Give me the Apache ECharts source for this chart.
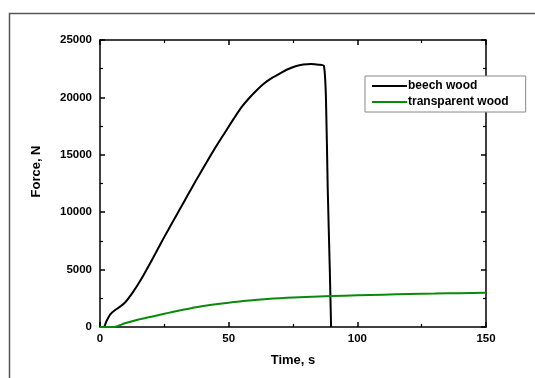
<!DOCTYPE html>
<html>
<head>
<meta charset="utf-8">
<script src="https://cdn.jsdelivr.net/npm/echarts@6/dist/echarts.min.js"></script>
<style>
  html, body { margin: 0; padding: 0; background: #fff; }
  #chart { width: 535px; height: 378px; }
</style>
</head>
<body>
<div id="chart"></div>
<script>
// time (s), force (N)
const beechWood = [
  [0, 0], [1.5, 0], [2.5, 500], [4, 1100], [6, 1500], [8, 1800], [10, 2200],
  [13, 3100], [16, 4150], [19, 5350], [22, 6600], [25, 7850], [28, 9050],
  [31, 10250], [34, 11450], [37, 12650], [40, 13800], [43, 14950], [46, 16050],
  [49, 17100], [52, 18150], [55, 19150], [58, 19950], [61, 20650], [64, 21250],
  [67, 21720], [70, 22100], [73, 22450], [76, 22720], [79, 22870], [82, 22900],
  [85, 22850], [87, 22750], [87.8, 20000], [88.5, 12000], [89.3, 5000], [89.8, 0]
];
const transparentWood = [
  [0, 0], [5, 0], [10, 350], [15, 650], [20, 900], [25, 1150], [30, 1400],
  [35, 1620], [40, 1820], [45, 1980], [50, 2120], [55, 2250], [60, 2350],
  [65, 2440], [70, 2510], [75, 2570], [80, 2620], [90, 2700], [100, 2760],
  [110, 2820], [120, 2870], [130, 2910], [140, 2950], [150, 2990]
];
const seriesNames = ["beech wood", "transparent wood"];

const font = "Liberation Sans, Arial, sans-serif";
const axisBase = {
  axisLine: { show: true, onZero: false, lineStyle: { color: "#000", width: 1.5 } },
  axisTick: { show: true, inside: true, length: 5, lineStyle: { color: "#000", width: 1.5 } },
  minorTick: { show: true, splitNumber: 2, length: 3, lineStyle: { color: "#000", width: 1.2 } },
  splitLine: { show: false },
  minorSplitLine: { show: false }
};

const chart = echarts.init(document.getElementById("chart"));
chart.setOption({
  animation: false,
  backgroundColor: "#fff",
  graphic: [{
    type: "rect",
    shape: { x: 9.5, y: 13.5, width: 600, height: 400 },
    style: { fill: "none", stroke: "#555", lineWidth: 1.5 },
    silent: true
  }],
  grid: { left: 100, top: 40, right: 49, bottom: 51 },
  legend: {
    orient: "vertical",
    left: 365,
    top: 76,
    data: seriesNames,
    itemWidth: 35,
    itemHeight: 2,
    itemGap: 4,
    icon: "rect",
    backgroundColor: "#fff",
    borderColor: "#888",
    borderWidth: 1,
    borderRadius: 0,
    padding: [4, 17, 4, 7],
    textStyle: { fontFamily: font, fontWeight: "bold", fontSize: 12, color: "#000", padding: [0, 0, 0, -4] }
  },
  xAxis: [
    Object.assign({}, axisBase, {
      type: "value", min: 0, max: 150, interval: 50,
      name: "Time, s", nameLocation: "middle", nameGap: 27,
      nameTextStyle: { fontFamily: font, fontWeight: "bold", fontSize: 13, color: "#000" },
      axisLabel: { fontFamily: font, fontWeight: "bold", fontSize: 11.5, color: "#000", margin: 6 }
    }),
    Object.assign({}, axisBase, {
      type: "value", min: 0, max: 150, interval: 50, position: "top",
      axisLabel: { show: false }
    })
  ],
  yAxis: [
    Object.assign({}, axisBase, {
      type: "value", min: 0, max: 25000, interval: 5000,
      name: "Force, N", nameLocation: "middle", nameGap: 57,
      nameTextStyle: { fontFamily: font, fontWeight: "bold", fontSize: 13, color: "#000", padding: [0, 0, 0, 24] },
      axisLabel: { fontFamily: font, fontWeight: "bold", fontSize: 11.5, color: "#000", margin: 8,
        formatter: (v) => String(v) }
    }),
    Object.assign({}, axisBase, {
      type: "value", min: 0, max: 25000, interval: 5000, position: "right",
      axisLabel: { show: false }
    })
  ],
  series: [
    {
      name: seriesNames[0], type: "line", data: beechWood,
      showSymbol: false, smooth: 0.2,
      itemStyle: { color: "#000" },
      lineStyle: { color: "#000", width: 2 }
    },
    {
      name: seriesNames[1], type: "line", data: transparentWood,
      showSymbol: false, smooth: 0.3,
      itemStyle: { color: "#0a8a0a" },
      lineStyle: { color: "#0a8a0a", width: 2 }
    }
  ]
});
</script>
</body>
</html>
